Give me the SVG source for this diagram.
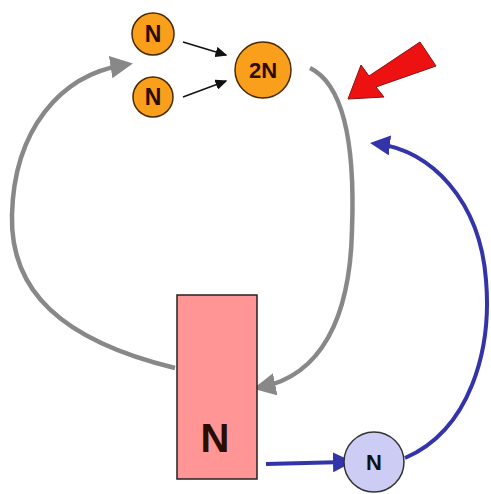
<svg xmlns="http://www.w3.org/2000/svg" width="491" height="494" viewBox="0 0 491 494">
<defs>
<style>
.orange{fill:#f99f1b;stroke:#4a2a00;stroke-width:1.5}
.t{font-family:"Liberation Sans",Arial,sans-serif;font-weight:bold;fill:#2a0d00;text-anchor:middle}
.gray{fill:none;stroke:#888;stroke-width:4.5}
.blue{fill:none;stroke:#3333aa;stroke-width:4}
.blk{fill:none;stroke:#111;stroke-width:1.5}
</style>
<marker id="ag" markerWidth="5" markerHeight="5" refX="3" refY="2.5" orient="auto" markerUnits="strokeWidth"><path d="M0,0 L5,2.5 L0,5 z" fill="#888"/></marker>
<marker id="ab" markerWidth="5" markerHeight="5" refX="3" refY="2.5" orient="auto" markerUnits="strokeWidth"><path d="M0,0 L5,2.5 L0,5 z" fill="#3333aa"/></marker>
<marker id="ak" markerWidth="8" markerHeight="7" refX="7" refY="3.5" orient="auto" markerUnits="strokeWidth"><path d="M0,0 L8,3.5 L0,7 z" fill="#111"/></marker>
</defs>
<rect width="491" height="494" fill="#fff"/>
<g id="connectors">
<path class="blk" d="M183,42 L226,55" marker-end="url(#ak)"/>
<path class="blk" d="M183,97 L226,81" marker-end="url(#ak)"/>
<path class="gray" d="M310,68 C345,85 355,150 352,230 C350,320 320,375 262,387" marker-end="url(#ag)"/>
<path class="gray" d="M175,368 C60,340 10,290 12,215 C14,130 60,75 124,65" marker-end="url(#ag)"/>
<path class="blue" d="M266,464 L345,462" marker-end="url(#ab)"/>
<path class="blue" d="M405,458 C470,430 492,350 486,280 C480,200 430,150 378,144" marker-end="url(#ab)"/>
</g>
<g id="red-arrow">
<path d="M436,66 L420,42 L369,76 L361,65 L348,99 L384,97 L376,87 Z" fill="#ee1111" stroke="#881111" stroke-width="1"/>
</g>
<g id="n1"><circle class="orange" cx="153" cy="34" r="21"/><text class="t" x="153" y="42" font-size="23">N</text></g>
<g id="n2"><circle class="orange" cx="153" cy="97" r="20"/><text class="t" x="153" y="105" font-size="23">N</text></g>
<g id="n2N"><circle class="orange" cx="263" cy="70" r="28"/><text class="t" x="263" y="78" font-size="22">2N</text></g>
<g id="box"><rect x="177" y="295" width="80" height="184" fill="#ff9595" stroke="#222" stroke-width="1.5"/><text class="t" x="215" y="452" font-size="40">N</text></g>
<g id="blueN"><circle cx="374" cy="462" r="30" fill="#ccccf5" stroke="#333" stroke-width="1.5"/><text class="t" x="374" y="470" font-size="22" style="fill:#111">N</text></g>
</svg>
